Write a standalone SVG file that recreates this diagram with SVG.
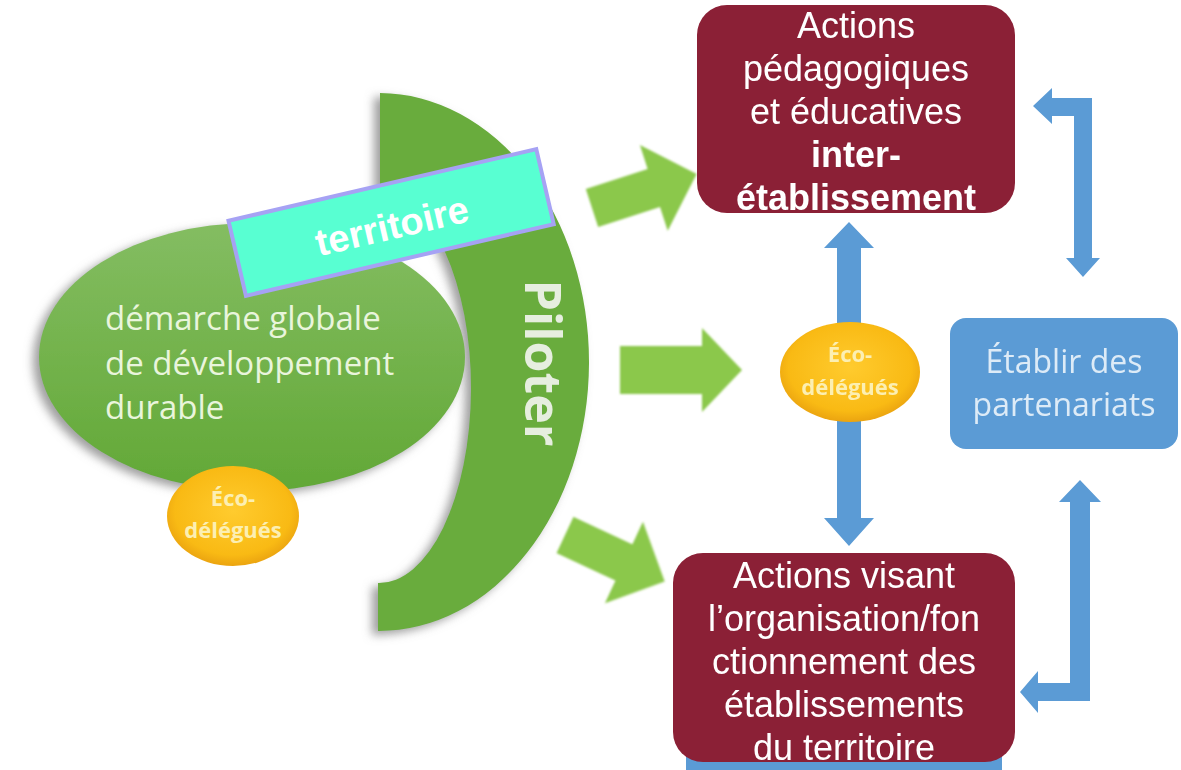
<svg xmlns="http://www.w3.org/2000/svg" width="1181" height="770" viewBox="0 0 1181 770">
<defs>
<filter id="shd" x="-20%" y="-20%" width="140%" height="140%">
<feDropShadow dx="-6" dy="4" stdDeviation="5" flood-color="#777" flood-opacity="0.7"/>
</filter>
<filter id="soft" x="-20%" y="-20%" width="140%" height="140%">
<feGaussianBlur stdDeviation="1.2"/>
</filter>
<linearGradient id="gEll" x1="0" y1="0" x2="0" y2="1">
<stop offset="0" stop-color="#84BD62"/>
<stop offset="1" stop-color="#62A836"/>
</linearGradient>
<radialGradient id="gEco" cx="0.5" cy="0.45" r="0.55">
<stop offset="0" stop-color="#FFCB2E"/>
<stop offset="0.8" stop-color="#F9BA14"/>
<stop offset="1" stop-color="#EBA410"/>
</radialGradient>
<style>
.maroon{fill:#8B2036}
.blue{fill:#5B9BD5}
.garrow{fill:#8BC84B}
.wt{fill:#FFFFFF;font-family:"Liberation Sans",Arial,sans-serif;font-size:36px;text-anchor:middle}
.eco{fill:#FCEFB2;font-family:"Open Sans",sans-serif;font-weight:bold;font-size:22px;text-anchor:middle}
.gt{fill:#E9F5DC;font-family:"Open Sans",sans-serif;font-size:33px}
</style>
</defs>
<rect width="1181" height="770" fill="#FFFFFF"/>

<g id="piloter">
<path d="M380,93 A210,269 0 0 1 378,631 L378,583 A92,195 0 0 0 380,193 Z" fill="#69AC3C" filter="url(#shd)"/>
<text transform="translate(525,363) rotate(90)" x="0" y="0" fill="#E6EEDF" font-family="Open Sans, sans-serif" font-weight="bold" font-size="50" text-anchor="middle">Piloter</text>
</g>

<g id="demarche">
<ellipse cx="252" cy="357" rx="213" ry="134" fill="url(#gEll)" filter="url(#shd)"/>
<text class="gt" x="105" y="330">démarche globale</text>
<text class="gt" x="105" y="375">de développement</text>
<text class="gt" x="105" y="419">durable</text>
</g>

<g id="eco-left">
<ellipse cx="233" cy="516" rx="66" ry="50" fill="url(#gEco)"/>
<text class="eco" x="233" y="506">Éco-</text>
<text class="eco" x="233" y="538">délégués</text>
</g>

<g id="territoire">
<g transform="translate(391,222) rotate(-13.1)">
<rect x="-158" y="-38" width="316" height="77" fill="#58FFD2" stroke="#A6A2F4" stroke-width="4"/>
<text x="0" y="17" fill="#FFFFFF" font-family="Liberation Sans, Arial, sans-serif" font-weight="bold" font-size="38" text-anchor="middle">territoire</text>
</g>
</g>

<g id="connectors">
<g class="garrow" filter="url(#soft)">
<path transform="translate(592,208) rotate(-18)" d="M0,-20 L65,-20 L65,-45 L110,0 L65,45 L65,20 L0,20 Z"/>
<path transform="translate(620,370)" d="M0,-24 L82,-24 L82,-42 L122,0 L82,42 L82,24 L0,24 Z"/>
<path transform="translate(565,535) rotate(25)" d="M0,-20 L65,-20 L65,-45 L110,0 L65,45 L65,20 L0,20 Z"/>
</g>
<g class="blue">
<path d="M849,222 L874,248 L861,248 L861,518 L874,518 L849,546 L824,518 L837,518 L837,248 L824,248 Z"/>
<path d="M1033,106 L1052,88 L1052,98 L1092,98 L1092,258 L1100,258 L1083,277 L1066,258 L1074,258 L1074,116 L1052,116 L1052,124 Z"/>
<path d="M1080,480 L1101,502 L1090,502 L1090,701 L1038,701 L1038,713 L1020,692 L1038,671 L1038,683 L1070,683 L1070,502 L1059,502 Z"/>
</g>
</g>

<g id="eco-middle">
<ellipse cx="850" cy="372" rx="70" ry="50" fill="url(#gEco)"/>
<text class="eco" x="850" y="362">Éco-</text>
<text class="eco" x="850" y="395">délégués</text>
</g>

<g id="partenariats">
<rect x="950" y="318" width="228" height="131" rx="16" class="blue"/>
<text x="1064" y="373" fill="#DDEBF7" font-family="Open Sans, sans-serif" font-size="32" text-anchor="middle">Établir des</text>
<text x="1064" y="416" fill="#DDEBF7" font-family="Open Sans, sans-serif" font-size="32" text-anchor="middle">partenariats</text>
</g>

<g id="actions-peda">
<rect x="697" y="5" width="318" height="208" rx="30" class="maroon"/>
<text class="wt" x="856" y="38">Actions</text>
<text class="wt" x="856" y="81">pédagogiques</text>
<text class="wt" x="856" y="124">et éducatives</text>
<text class="wt" x="856" y="167" font-weight="bold">inter-</text>
<text class="wt" x="856" y="210" font-weight="bold">établissement</text>
</g>

<g id="actions-orga">
<rect x="686" y="720" width="316" height="50" class="blue"/>
<rect x="673" y="553" width="342" height="209" rx="30" class="maroon"/>
<text class="wt" x="844" y="588">Actions visant</text>
<text class="wt" x="844" y="631">l’organisation/fon</text>
<text class="wt" x="844" y="674">ctionnement des</text>
<text class="wt" x="844" y="717">établissements</text>
<text class="wt" x="844" y="760">du territoire</text>
</g>
</svg>
